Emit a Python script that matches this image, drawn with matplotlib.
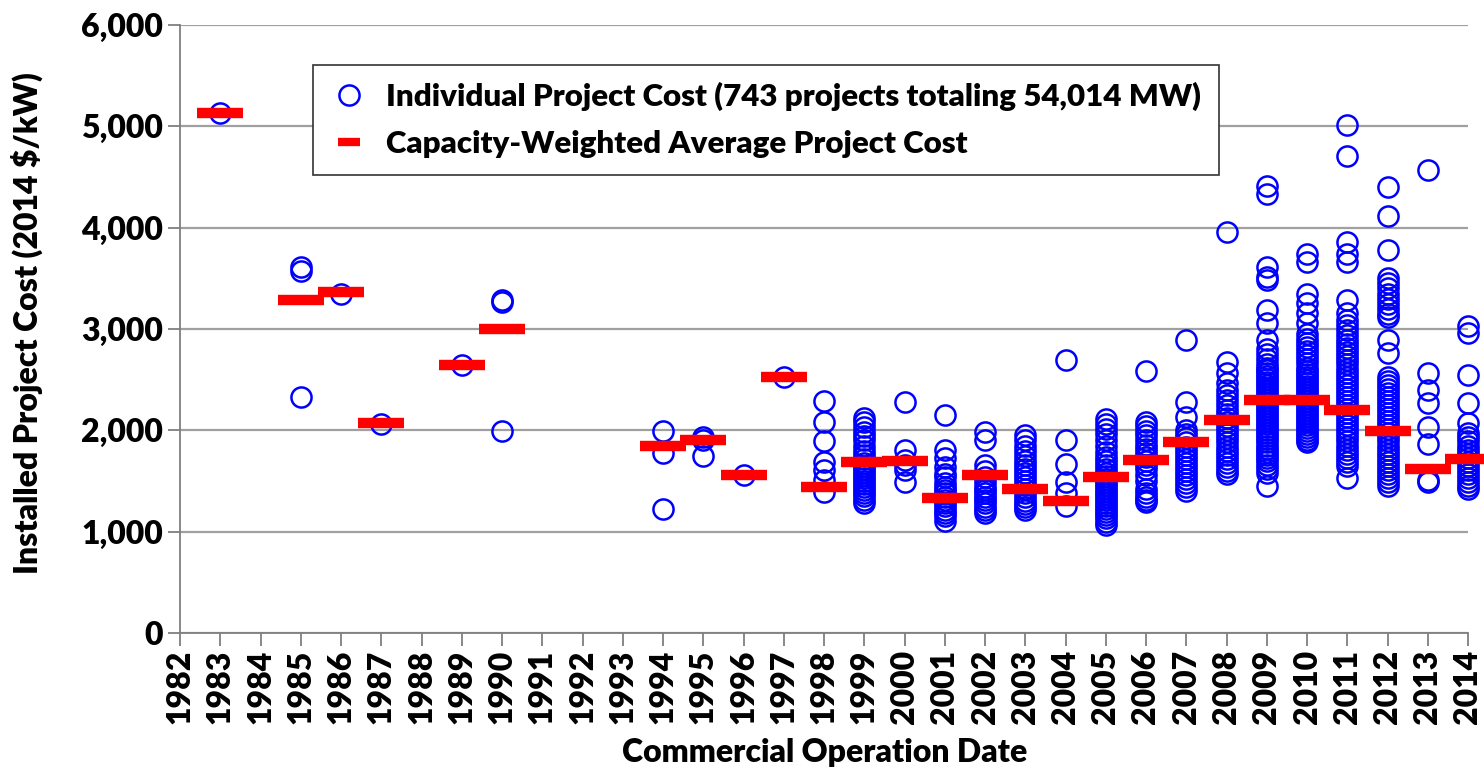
import matplotlib
matplotlib.use("Agg")
import matplotlib.pyplot as plt
from matplotlib import font_manager
from matplotlib.lines import Line2D

# pick a narrow-ish bold font close to Calibri
names = set(f.name for f in font_manager.fontManager.ttflist)
font = 'DejaVu Sans'
for cand in ['Liberation Sans Narrow', 'Lato', 'Open Sans', 'Liberation Sans']:
    if cand in names:
        font = cand
        break
plt.rcParams['font.family'] = [font, 'DejaVu Sans']
plt.rcParams['font.weight'] = 'heavy'
plt.rcParams['axes.labelweight'] = 'heavy'

# individual project costs (2014 $/kW), by commercial operation year
project_years = [1983, 1985, 1986, 1987, 1989, 1990, 1994, 1995, 1996, 1997, 1998,
                 1999, 2000, 2001, 2002, 2003, 2004, 2005, 2006, 2007, 2008, 2009,
                 2010, 2011, 2012, 2013, 2014]

c1983 = [5130]
c1985 = [3610, 3570, 2330]
c1986 = [3350]
c1987 = [2060]
c1989 = [2640]
c1990 = [3290, 3270, 1990]
c1994 = [1990, 1775, 1220]
c1995 = [1935, 1900, 1750]
c1996 = [1555]
c1997 = [2530]
c1998 = [2290, 2085, 1890, 1690, 1610, 1510, 1395]
c1999 = [2120, 2080, 2030, 1980, 1940, 1900, 1850, 1800, 1760, 1720, 1680, 1650,
         1620, 1590, 1560, 1530, 1500, 1470, 1440, 1410, 1380, 1350, 1310, 1280]
c2000 = [2275, 1805, 1705, 1660, 1610, 1495]
c2001 = [2155, 1805, 1725, 1640, 1570, 1540, 1480, 1440, 1410, 1380, 1345, 1310,
         1280, 1250, 1215, 1180, 1150, 1110]
c2002 = [1985, 1905, 1660, 1600, 1540, 1490, 1445, 1410, 1380, 1345, 1310, 1280,
         1245, 1215, 1180]
c2003 = [1955, 1900, 1850, 1800, 1750, 1700, 1660, 1620, 1580, 1540, 1500, 1460,
         1420, 1380, 1340, 1300, 1270, 1240, 1215]
c2004 = [2690, 1900, 1665, 1495, 1380, 1250]
c2005 = [2110, 2060, 2010, 1960, 1900, 1850, 1790, 1740, 1700, 1660, 1620, 1580,
         1550, 1520, 1490, 1460, 1430, 1400, 1370, 1340, 1310, 1280, 1250, 1220,
         1190, 1160, 1130, 1100, 1065]
c2006 = [2590, 2085, 2040, 1990, 1950, 1900, 1860, 1820, 1780, 1740, 1700, 1660,
         1620, 1560, 1500, 1420, 1380, 1340, 1310, 1290]
c2007 = [2890, 2280, 2135, 2005, 1960, 1920, 1880, 1840, 1800, 1760, 1720, 1680,
         1640, 1600, 1560, 1520, 1480, 1440, 1400]
c2008 = [3960, 2675, 2565, 2465, 2400, 2350, 2300, 2250, 2200, 2160, 2120, 2080,
         2040, 2000, 1960, 1920, 1880, 1840, 1800, 1760, 1720, 1680, 1640, 1600,
         1570]
c2009 = [4410, 4330, 3615, 3510, 3480, 3185, 3055, 2890, 2800, 2750, 2700, 2650,
         2620, 2600, 2570, 2540, 2510, 2480, 2450, 2420, 2390, 2360, 2330, 2300,
         2270, 2240, 2210, 2180, 2150, 2120, 2090, 2060, 2030, 2000, 1970, 1940,
         1910, 1880, 1850, 1820, 1790, 1760, 1730, 1700, 1660, 1620, 1580, 1450]
c2010 = [3745, 3665, 3350, 3255, 3155, 3055, 2955, 2900, 2860, 2820, 2780, 2740,
         2700, 2660, 2620, 2590, 2560, 2530, 2500, 2470, 2440, 2410, 2380, 2350,
         2320, 2290, 2260, 2230, 2200, 2170, 2140, 2110, 2080, 2050, 2020, 1990,
         1960, 1930, 1900, 1880]
c2011 = [5015, 4705, 3860, 3745, 3665, 3285, 3155, 3090, 3040, 2990, 2940, 2890,
         2850, 2810, 2770, 2730, 2690, 2650, 2610, 2570, 2530, 2490, 2450, 2410,
         2370, 2330, 2290, 2250, 2210, 2170, 2130, 2090, 2050, 2010, 1970, 1930,
         1890, 1850, 1810, 1770, 1730, 1690, 1645, 1530]
c2012 = [4400, 4120, 3780, 3500, 3450, 3400, 3350, 3300, 3250, 3200, 3150, 3120,
         2890, 2760, 2530, 2490, 2450, 2410, 2370, 2330, 2290, 2250, 2210, 2170,
         2130, 2090, 2050, 2010, 1970, 1930, 1890, 1850, 1810, 1770, 1730, 1690,
         1650, 1610, 1570, 1530, 1490, 1450]
c2013 = [4570, 2565, 2400, 2265, 2035, 1870, 1510, 1495]
c2014 = [3025, 2960, 2545, 2265, 2070, 1970, 1930, 1890, 1850, 1810, 1770, 1730,
         1690, 1650, 1610, 1570, 1530, 1490, 1450, 1420]

project_costs = [c1983, c1985, c1986, c1987, c1989, c1990, c1994, c1995, c1996,
                 c1997, c1998, c1999, c2000, c2001, c2002, c2003, c2004, c2005,
                 c2006, c2007, c2008, c2009, c2010, c2011, c2012, c2013, c2014]

# capacity-weighted average per year
avg_cost = [5130, 3290, 3370, 2070, 2640, 3000, 1850, 1905, 1560, 2530, 1440,
            1690, 1700, 1330, 1560, 1420, 1305, 1535, 1710, 1880, 2100, 2300,
            2295, 2200, 1990, 1615, 1715]

year_ticks = list(range(1982, 2015))

fig = plt.figure(figsize=(14.84, 7.68), dpi=100)
ax = fig.add_axes([180/1484, 1-633/768, 1288/1484, 608/768])

for yr, vals in zip(project_years, project_costs):
    ax.plot([yr]*len(vals), vals, 'o', mfc='none', mec='#0000ff', ms=14.5,
            mew=1.8, clip_on=False, zorder=3)

ax.plot(project_years, avg_cost, '_', color='#ff0000', ms=33, mew=7.5,
        clip_on=False, zorder=4)

ax.set_xlim(1982, 2014)
ax.set_ylim(0, 6000)
ax.set_yticks(range(0, 6001, 1000))
ax.set_yticklabels(['{:,}'.format(v) for v in range(0, 6001, 1000)], fontsize=23)
ax.set_xticks(year_ticks)
ax.set_xticklabels([str(y) for y in year_ticks], rotation=90, fontsize=23)
ax.yaxis.grid(True, color='#a0a0a0', lw=1.6)
ax.set_axisbelow(True)
for s in ['top', 'right']:
    ax.spines[s].set_visible(False)
for s in ['left', 'bottom']:
    ax.spines[s].set_color('#7f7f7f')
    ax.spines[s].set_linewidth(1.3)
ax.tick_params(axis='both', length=9, width=1.3, color='#7f7f7f', pad=3)

ax.set_xlabel('Commercial Operation Date', fontsize=23)
ax.xaxis.set_label_coords(0.5008, -0.172)
ax.set_ylabel('Installed Project Cost (2014 $/kW)', fontsize=23)
ax.yaxis.set_label_coords(-0.106, 0.51)

handles = [Line2D([], [], ls='none', marker='o', mfc='none', mec='#0000ff', ms=14.5, mew=1.8),
           Line2D([], [], ls='none', marker='_', color='#ff0000', ms=16, mew=6)]
labels = ['Individual Project Cost (743 projects totaling 54,014 MW)',
          'Capacity-Weighted Average Project Cost']
leg = ax.legend(handles, labels, loc='upper left',
                bbox_to_anchor=(313/1484, 1-65/768), bbox_transform=fig.transFigure,
                borderaxespad=0, fancybox=False, framealpha=1, edgecolor='#333333',
                fontsize=22.5, handlelength=1.2, handletextpad=0.6, labelspacing=0.6,
                borderpad=0.55)
leg.get_frame().set_linewidth(1.2)

fig.savefig('out.png', dpi=100)
